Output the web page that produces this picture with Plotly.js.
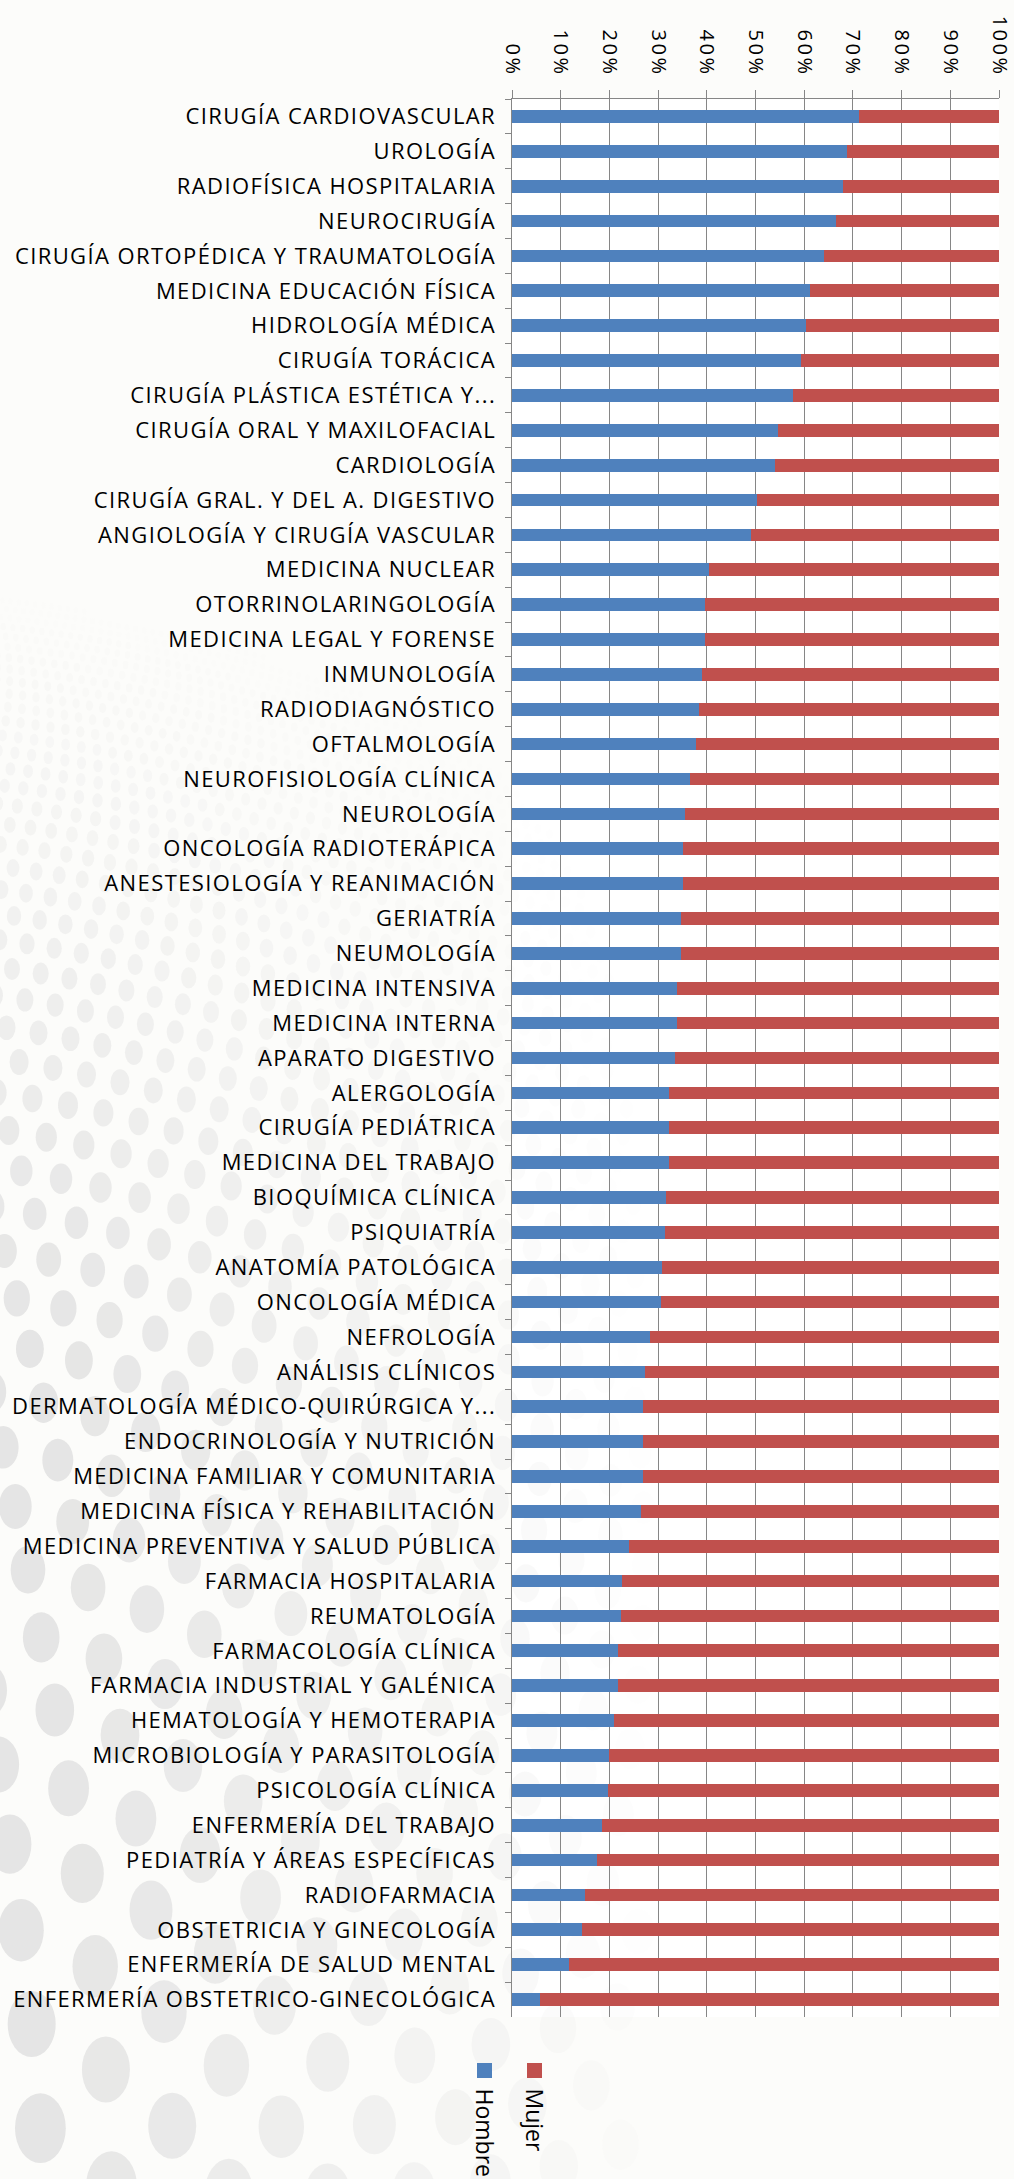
<!DOCTYPE html>
<html>
<head>
<meta charset="utf-8">
<script src="https://cdn.plot.ly/plotly-3.0.1.min.js"></script>
<style>
  html, body { margin: 0; padding: 0; background: #fcfcfa; }
  #graph { width: 1014px; height: 2179px; }
  /* the original labels are set wide, as Excel renders them */
  #graph g.ytick text { letter-spacing: 1.4px; }
  #graph g.xtick text { letter-spacing: 2.5px; }
</style>
</head>
<body>
<div id="graph"></div>
<script>
// specialties, top to bottom as in the chart
const especialidades = [
  'CIRUGÍA CARDIOVASCULAR', 'UROLOGÍA', 'RADIOFÍSICA HOSPITALARIA', 'NEUROCIRUGÍA',
  'CIRUGÍA ORTOPÉDICA Y TRAUMATOLOGÍA', 'MEDICINA EDUCACIÓN FÍSICA', 'HIDROLOGÍA MÉDICA',
  'CIRUGÍA TORÁCICA', 'CIRUGÍA PLÁSTICA ESTÉTICA Y...', 'CIRUGÍA ORAL Y MAXILOFACIAL',
  'CARDIOLOGÍA', 'CIRUGÍA GRAL. Y DEL A. DIGESTIVO', 'ANGIOLOGÍA Y CIRUGÍA VASCULAR',
  'MEDICINA NUCLEAR', 'OTORRINOLARINGOLOGÍA', 'MEDICINA LEGAL Y FORENSE', 'INMUNOLOGÍA',
  'RADIODIAGNÓSTICO', 'OFTALMOLOGÍA', 'NEUROFISIOLOGÍA CLÍNICA', 'NEUROLOGÍA',
  'ONCOLOGÍA RADIOTERÁPICA', 'ANESTESIOLOGÍA Y REANIMACIÓN', 'GERIATRÍA', 'NEUMOLOGÍA',
  'MEDICINA INTENSIVA', 'MEDICINA INTERNA', 'APARATO DIGESTIVO', 'ALERGOLOGÍA',
  'CIRUGÍA PEDIÁTRICA', 'MEDICINA DEL TRABAJO', 'BIOQUÍMICA CLÍNICA', 'PSIQUIATRÍA',
  'ANATOMÍA PATOLÓGICA', 'ONCOLOGÍA MÉDICA', 'NEFROLOGÍA', 'ANÁLISIS CLÍNICOS',
  'DERMATOLOGÍA MÉDICO-QUIRÚRGICA Y...', 'ENDOCRINOLOGÍA Y NUTRICIÓN',
  'MEDICINA FAMILIAR Y COMUNITARIA', 'MEDICINA FÍSICA Y REHABILITACIÓN',
  'MEDICINA PREVENTIVA Y SALUD PÚBLICA', 'FARMACIA HOSPITALARIA', 'REUMATOLOGÍA',
  'FARMACOLOGÍA CLÍNICA', 'FARMACIA INDUSTRIAL Y GALÉNICA', 'HEMATOLOGÍA Y HEMOTERAPIA',
  'MICROBIOLOGÍA Y PARASITOLOGÍA', 'PSICOLOGÍA CLÍNICA', 'ENFERMERÍA DEL TRABAJO',
  'PEDIATRÍA Y ÁREAS ESPECÍFICAS', 'RADIOFARMACIA', 'OBSTETRICIA Y GINECOLOGÍA',
  'ENFERMERÍA DE SALUD MENTAL', 'ENFERMERÍA OBSTETRICO-GINECOLÓGICA'
];

// share of men (%)
const hombre = [
  71.3, 68.7, 67.9, 66.6, 64.0, 61.1, 60.3, 59.3, 57.6, 54.6,
  54.0, 50.3, 49.0, 40.4, 39.7, 39.7, 39.1, 38.3, 37.7, 36.6, 35.6,
  35.1, 35.1, 34.7, 34.7, 33.9, 33.9, 33.5, 32.2, 32.2, 32.2, 31.7,
  31.4, 30.9, 30.5, 28.3, 27.4, 26.9, 26.9, 26.9, 26.5, 24.0,
  22.6, 22.3, 21.7, 21.7, 20.9, 20.0, 19.7, 18.4, 17.4, 15.0, 14.3, 11.8, 5.8
];

// share of women (%)
const mujer = [
  28.7, 31.3, 32.1, 33.4, 36.0, 38.9, 39.7, 40.7, 42.4, 45.4,
  46.0, 49.7, 51.0, 59.6, 60.3, 60.3, 60.9, 61.7, 62.3, 63.4, 64.4,
  64.9, 64.9, 65.3, 65.3, 66.1, 66.1, 66.5, 67.8, 67.8, 67.8, 68.3,
  68.6, 69.1, 69.5, 71.7, 72.6, 73.1, 73.1, 73.1, 73.5, 76.0,
  77.4, 77.7, 78.3, 78.3, 79.1, 80.0, 80.3, 81.6, 82.6, 85.0, 85.7, 88.2, 94.2
];

const colores = { hombre: '#4F81BD', mujer: '#C0504D' };

// the faint grey dot swirl behind the left side of the slide (decoration only)
function dotBackground(w, h) {
  const cx = -220, cy = 2520;
  let dots = '';
  for (let R = 380; R < 1950;) {
    const t = (R - 380) / 1570;
    const d = 62 * (1 - t) + 5;
    const step = d * 1.45;
    for (let a = -Math.PI / 2; a < 0; a += step / R) {
      const x = cx + R * Math.cos(a);
      const y = cy + R * Math.sin(a);
      if (x < -40 || x > w + 40 || y < -40 || y > h + 40) continue;
      const op = 0.85 * Math.max(0, Math.min(1, 1.1 - x / 600)) * Math.min(1, (1 - t) * 2.2);
      if (op <= 0.02) continue;
      dots += `<ellipse cx="${x.toFixed(1)}" cy="${y.toFixed(1)}" rx="${(d * 0.4).toFixed(1)}" ` +
        `ry="${(d * 0.55).toFixed(1)}" fill="#e1e1e1" fill-opacity="${op.toFixed(2)}"/>`;
    }
    R += d * 1.35;
  }
  const svg = `<svg xmlns="http://www.w3.org/2000/svg" width="${w}" height="${h}" viewBox="0 0 ${w} ${h}">${dots}</svg>`;
  return 'data:image/svg+xml;charset=utf-8,' + encodeURIComponent(svg);
}

class Plot {
  draw() {
    Plotly.newPlot('graph', this.createPlotData(), this.initLayout(), { staticPlot: true });
  }

  createPlotData() {
    return [
      { name: 'Hombre', y: especialidades, x: hombre, color: colores.hombre },
      { name: 'Mujer', y: especialidades, x: mujer, color: colores.mujer }
    ].map(s => ({
      type: 'bar',
      orientation: 'h',
      name: s.name,
      x: s.x,
      y: s.y,
      marker: { color: s.color, line: { width: 0 } },
      hoverinfo: 'none'
    }));
  }

  initLayout() {
    const W = 1014, H = 2179;
    const m = { l: 512, r: 15, t: 99, b: 162 };
    const pw = W - m.l - m.r, ph = H - m.t - m.b;

    // legend drawn by hand, rotated like the original
    const legendItems = [
      { text: 'Hombre', color: colores.hombre, px: 484.5 },
      { text: 'Mujer', color: colores.mujer, px: 534.5 }
    ];
    const toX = px => (px - m.l) / pw;
    const toY = py => (m.t + ph - py) / ph;

    return {
      width: W,
      height: H,
      margin: m,
      paper_bgcolor: '#fcfcfa',
      plot_bgcolor: '#ffffff',
      barmode: 'stack',
      bargap: 0.636,
      showlegend: false,
      font: { family: 'Open Sans, sans-serif', color: '#000000' },
      xaxis: {
        side: 'top',
        range: [0, 100],
        dtick: 10,
        ticksuffix: '%',
        tickangle: 90,
        tickfont: { size: 20, color: '#000000' },
        ticks: 'outside',
        ticklen: 8,
        tickcolor: '#868686',
        ticklabelstandoff: 6,
        ticklabeloverflow: 'allow',
        showline: true,
        linecolor: '#868686',
        linewidth: 1.5,
        showgrid: true,
        gridcolor: '#868686',
        gridwidth: 1,
        zeroline: false,
        fixedrange: true
      },
      yaxis: {
        type: 'category',
        autorange: 'reversed',
        tickson: 'boundaries',
        ticks: 'outside',
        ticklen: 6,
        tickcolor: '#868686',
        ticklabelstandoff: 10,
        tickfont: { size: 22, color: '#000000' },
        showline: true,
        linecolor: '#868686',
        linewidth: 1.5,
        showgrid: false,
        zeroline: false,
        fixedrange: true
      },
      images: [{
        source: dotBackground(W, H),
        xref: 'paper', yref: 'paper',
        x: toX(0), y: toY(0),
        sizex: W / pw, sizey: H / ph,
        sizing: 'stretch',
        xanchor: 'left', yanchor: 'top',
        layer: 'below'
      }],
      shapes: legendItems.map(it => ({
        type: 'rect',
        xref: 'paper', yref: 'paper',
        x0: toX(it.px - 7.5), x1: toX(it.px + 7.5),
        y0: toY(2078), y1: toY(2063),
        fillcolor: it.color,
        line: { width: 0 }
      })),
      annotations: legendItems.map(it => ({
        text: it.text,
        xref: 'paper', yref: 'paper',
        x: toX(it.px), y: toY(2086),
        xanchor: 'center', yanchor: 'top',
        textangle: 90,
        showarrow: false,
        font: { size: 23, color: '#000000' }
      }))
    };
  }
}

new Plot().draw();
</script>
</body>
</html>
